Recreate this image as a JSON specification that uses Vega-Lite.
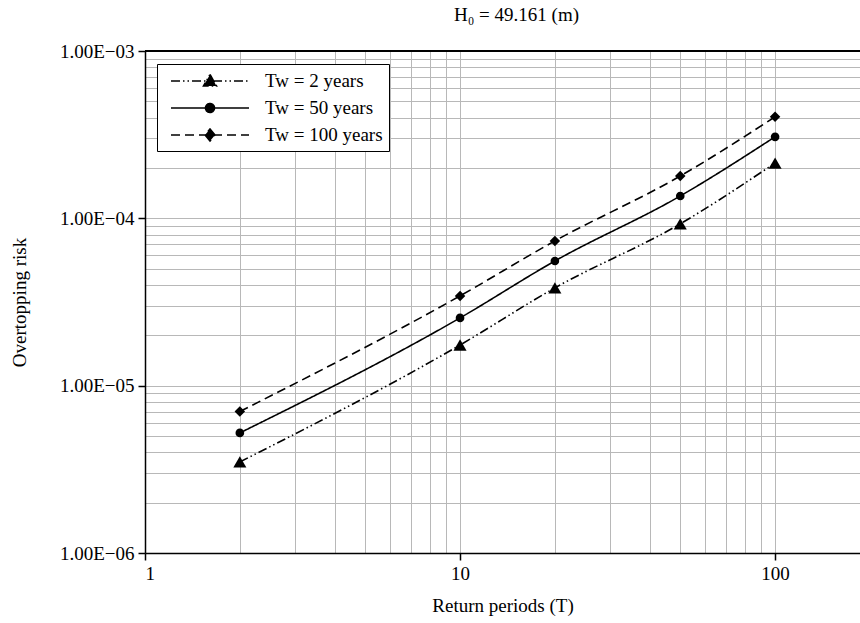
{
  "$schema": "https://vega.github.io/schema/vega-lite/v6.json",
  "width": 715,
  "height": 502,
  "autosize": {"type": "none"},
  "padding": {"left": 145, "top": 51, "right": 0, "bottom": 70},
  "background": "white",
  "config": {
    "view": {"stroke": null},
    "font": "Liberation Serif",
    "axis": {"labelFont": "Liberation Serif", "titleFont": "Liberation Serif", "titleFontWeight": "normal", "labelColor": "black", "titleColor": "black"},
    "legend": {"labelFont": "Liberation Serif"}
  },
  "title": {"text": "H₀ = 49.161 (m)", "font": "Liberation Serif", "fontSize": 19, "fontWeight": "normal", "color": "black", "offset": 17, "anchor": "middle", "dx": 14},
  "data": {
    "values": [
      {"T": 2, "risk": 0.0000035, "series": "Tw = 2 years"},
      {"T": 10, "risk": 0.0000175, "series": "Tw = 2 years"},
      {"T": 20, "risk": 0.0000384, "series": "Tw = 2 years"},
      {"T": 50, "risk": 0.0000927, "series": "Tw = 2 years"},
      {"T": 100, "risk": 0.000214, "series": "Tw = 2 years"},
      {"T": 2, "risk": 0.00000522, "series": "Tw = 50 years"},
      {"T": 10, "risk": 0.0000254, "series": "Tw = 50 years"},
      {"T": 20, "risk": 0.0000556, "series": "Tw = 50 years"},
      {"T": 50, "risk": 0.000136, "series": "Tw = 50 years"},
      {"T": 100, "risk": 0.000307, "series": "Tw = 50 years"},
      {"T": 2, "risk": 0.00000701, "series": "Tw = 100 years"},
      {"T": 10, "risk": 0.0000344, "series": "Tw = 100 years"},
      {"T": 20, "risk": 0.0000733, "series": "Tw = 100 years"},
      {"T": 50, "risk": 0.000179, "series": "Tw = 100 years"},
      {"T": 100, "risk": 0.000404, "series": "Tw = 100 years"}
    ]
  },
  "layer": [
    {
      "mark": {"type": "line", "color": "black", "strokeWidth": 1.6, "interpolate": "monotone"},
      "encoding": {
        "x": {
          "field": "T", "type": "quantitative",
          "scale": {"type": "log", "domain": [1, 186], "nice": false},
          "axis": {
            "title": "Return periods (T)",
            "titleFontSize": 19,
            "titlePadding": 13,
            "values": [1,2,3,4,5,6,7,8,9,10,20,30,40,50,60,70,80,90,100],
            "labelExpr": "datum.value == 1 ? '1' : datum.value == 10 ? '10' : datum.value == 100 ? '100' : ''",
            "labelFontSize": 19,
            "labelPadding": 4,
            "labelOverlap": false,
            "tickSize": 7,
            "tickColor": "black",
            "tickWidth": 1.5,
            "tickOpacity": {"condition": {"test": "datum.value == 1 || datum.value == 10 || datum.value == 100", "value": 1}, "value": 0},
            "domainColor": "black",
            "domainWidth": 1.5,
            "grid": true,
            "gridColor": "#b8b8b8",
            "gridWidth": 1
          }
        },
        "y": {
          "field": "risk", "type": "quantitative",
          "scale": {"type": "log", "domain": [0.000001, 0.001], "nice": false},
          "axis": {
            "title": "Overtopping risk",
            "titleFontSize": 19,
            "titlePadding": 30,
            "values": [0.000001,0.000002,0.000003,0.000004,0.000005,0.000006,0.000007,0.000008,0.000009,0.00001,0.00002,0.00003,0.00004,0.00005,0.00006,0.00007,0.00008,0.00009,0.0001,0.0002,0.0003,0.0004,0.0005,0.0006,0.0007,0.0008,0.0009,0.001],
            "labelExpr": "datum.value == 0.001 ? '1.00E−03' : datum.value == 0.0001 ? '1.00E−04' : datum.value == 0.00001 ? '1.00E−05' : datum.value == 0.000001 ? '1.00E−06' : ''",
            "labelFontSize": 19,
            "labelPadding": 4,
            "labelOverlap": false,
            "tickSize": 7,
            "tickColor": "black",
            "tickWidth": 1.5,
            "tickOpacity": {"condition": {"test": "datum.value == 0.001 || datum.value == 0.0001 || datum.value == 0.00001 || datum.value == 0.000001", "value": 1}, "value": 0},
            "domainColor": "black",
            "domainWidth": 1.5,
            "grid": true,
            "gridColor": "#b8b8b8",
            "gridWidth": 1
          }
        },
        "strokeDash": {
          "field": "series", "type": "nominal",
          "scale": {"domain": ["Tw = 2 years", "Tw = 50 years", "Tw = 100 years"], "range": [[9, 3, 1.5, 3, 1.5, 3], [1, 0], [9, 5]]},
          "legend": {
            "title": null,
            "orient": "none",
            "legendX": 12,
            "legendY": 13,
            "strokeColor": "black",
            "fillColor": "white",
            "padding": 6,
            "labelFontSize": 19,
            "labelOffset": 80,
            "rowPadding": 6,
            "symbolSize": 400,
            "symbolStrokeWidth": 1.6,
            "symbolStrokeColor": "black",
            "symbolFillColor": "black",
            "encode": {
              "symbols": {
                "update": {
                  "shape": {"signal": "datum.value == 'Tw = 2 years' ? 'M-0.3,0H7.5M3.6,-0.65L4.25,0.5L2.95,0.5Z' : datum.value == 'Tw = 50 years' ? 'M-0.3,0H7.5M4.05,0A0.45,0.45,0,1,1,3.15,0A0.45,0.45,0,1,1,4.05,0Z' : 'M-0.3,0H7.5M3.6,-0.6L4.1,0L3.6,0.6L3.1,0Z'"},
                  "size": {"value": 400},
                  "fill": {"value": "black"},
                  "stroke": {"value": "black"},
                  "opacity": {"value": 1}
                }
              }
            }
          }
        }
      }
    },
    {
      "transform": [{"filter": "datum.series == 'Tw = 2 years'"}],
      "mark": {"type": "point", "filled": true, "color": "black", "opacity": 1, "shape": "triangle-up", "size": 170},
      "encoding": {
        "x": {"field": "T", "type": "quantitative"},
        "y": {"field": "risk", "type": "quantitative"}
      }
    },
    {
      "transform": [{"filter": "datum.series == 'Tw = 50 years'"}],
      "mark": {"type": "point", "filled": true, "color": "black", "opacity": 1, "shape": "circle", "size": 75},
      "encoding": {
        "x": {"field": "T", "type": "quantitative"},
        "y": {"field": "risk", "type": "quantitative"}
      }
    },
    {
      "transform": [{"filter": "datum.series == 'Tw = 100 years'"}],
      "mark": {"type": "point", "filled": true, "color": "black", "opacity": 1, "shape": "diamond", "size": 110},
      "encoding": {
        "x": {"field": "T", "type": "quantitative"},
        "y": {"field": "risk", "type": "quantitative"}
      }
    },
    {
      "mark": {"type": "rule", "color": "black", "strokeWidth": 1.8},
      "encoding": {
        "y": {"datum": 0.001}
      }
    }
  ]
}
